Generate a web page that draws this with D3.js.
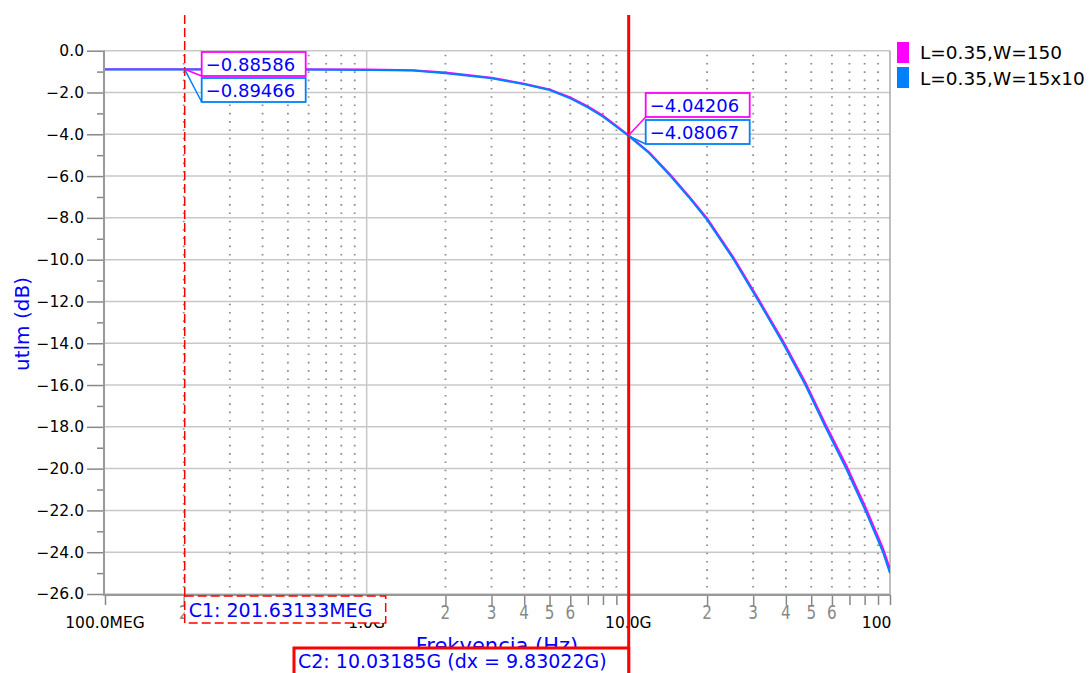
<!DOCTYPE html>
<html lang="en">
<head>
<meta charset="UTF-8">
<title>utlm</title>
<script src="https://d3js.org/d3.v7.min.js"></script>
<style>
    body{margin:0;background:#fff;}
    svg{display:block;font-family:"DejaVu Sans",sans-serif;}
</style>
</head>
<body>
<svg id="chart" width="1090" height="673"></svg>
<script>
// frequency points in GHz
var freqGHz = [0.1, 0.2016, 0.5, 1.0, 1.5, 2, 3, 4, 5, 6, 7, 8, 9, 10.03, 12, 14.5, 17, 20, 25.3, 31.5, 39, 47.5, 56.6, 68, 80.5, 94, 100];
var magentaDb = [-0.886, -0.886, -0.888, -0.905, -0.93, -1.04, -1.29, -1.58, -1.85, -2.23, -2.66, -3.11, -3.59, -4.042, -4.86, -5.95, -6.95, -8.02, -9.92, -11.91, -13.89, -15.88, -17.86, -19.84, -21.83, -23.81, -24.8];
var blueDb = [-0.895, -0.895, -0.90, -0.92, -0.95, -1.08, -1.32, -1.61, -1.88, -2.28, -2.71, -3.16, -3.64, -4.081, -4.90, -6.0, -7.0, -8.1, -10.0, -12.0, -14.0, -16.0, -18.0, -20.0, -22.0, -24.0, -25.0];

var seriesNames = ["L=0.35,W=150", "L=0.35,W=15x10"];
var seriesColors = ["#ff00ff", "#0080ff"];

var yMajor = [0, -2, -4, -6, -8, -10, -12, -14, -16, -18, -20, -22, -24, -26];
var yMinor = [-1, -3, -5, -7, -9, -11, -13, -15, -17, -19, -21, -23, -25];
var xMajor = [0.1, 1, 10, 100];
var xMajorLabels = ["100.0MEG", "1.0G", "10.0G", "100.0G"];
var xMinorDigits = [2, 3, 4, 5, 6, 7, 8, 9];
var xMinorLabels = ["2", "3", "4", "5", "6", "", "", ""];

// cursors
var c1GHz = 0.20163133;
var c2GHz = 10.03185;
var c1Text = "C1: 201.63133MEG";
var c2Text = "C2: 10.03185G (dx = 9.83022G)";
var c1Values = [-0.88586, -0.89466];
var c2Values = [-4.04206, -4.08067];

var svg = d3.select("#chart");
var pLeft = 105, pRight = 890, pTop = 50.7, pBottom = 594;

var x = d3.scaleLog().domain([0.1, 100]).range([pLeft, pRight]);
var y = d3.scaleLinear().domain([-26, 0]).range([pBottom, pTop]);

// all minor positions per decade
var minorTicks = [];
xMajor.slice(0, 3).forEach(function(m){
    xMinorDigits.forEach(function(d, i){
        minorTicks.push({f: m * d, label: xMinorLabels[i]});
    });
});

// grid
var grid = svg.append("g");
grid.selectAll(".hg").data(yMajor).enter().append("line")
    .attr("x1", pLeft).attr("x2", pRight)
    .attr("y1", d => y(d)).attr("y2", d => y(d))
    .attr("stroke", "#c8c8c8").attr("stroke-width", 1.5);
grid.selectAll(".vd").data(minorTicks).enter().append("line")
    .attr("x1", d => x(d.f)).attr("x2", d => x(d.f))
    .attr("y1", pTop + 4).attr("y2", pBottom)
    .attr("stroke", "#8c8c8c").attr("stroke-width", 1.8)
    .attr("stroke-dasharray", "1.6,6.7");
grid.selectAll(".vg").data([1, 10]).enter().append("line")
    .attr("x1", d => x(d)).attr("x2", d => x(d))
    .attr("y1", pTop).attr("y2", pBottom)
    .attr("stroke", "#c8c8c8").attr("stroke-width", 1.5);
grid.append("line")
    .attr("x1", pRight).attr("x2", pRight).attr("y1", pTop).attr("y2", pBottom + 2)
    .attr("stroke", "#aaa").attr("stroke-width", 1.5);

// y axis
var yAxis = svg.append("g").attr("transform", "translate(" + pLeft + ",0)")
    .call(d3.axisLeft(y).tickValues(yMajor).tickSize(18).tickPadding(3).tickFormat(d3.format(".1f")));
svg.append("g").attr("transform", "translate(" + pLeft + ",0)")
    .call(d3.axisLeft(y).tickValues(yMinor).tickSize(8).tickFormat(""));
svg.selectAll(".domain").remove();
svg.selectAll(".tick line").attr("stroke", "#888").attr("stroke-width", 1.5);
yAxis.selectAll("text").attr("font-size", 15.5).attr("fill", "#000").attr("font-family", "DejaVu Sans");
svg.append("line").attr("x1", pLeft - 1).attr("x2", pLeft - 1).attr("y1", pTop).attr("y2", pBottom + 2)
    .attr("stroke", "#999").attr("stroke-width", 2);

// x axis
var xAxis = svg.append("g").attr("transform", "translate(0," + (pBottom + 1) + ")")
    .call(d3.axisBottom(x).tickValues(xMajor.concat(minorTicks.map(d => d.f))).tickSize(10).tickFormat(""));
xAxis.select(".domain").remove();
xAxis.selectAll(".tick line").attr("stroke", "#888").attr("stroke-width", 1.5);
svg.append("line").attr("x1", pLeft - 2).attr("x2", pRight).attr("y1", pBottom + 1).attr("y2", pBottom + 1)
    .attr("stroke", "#999").attr("stroke-width", 2);

svg.append("g").selectAll("text").data(minorTicks.filter(d => d.label)).enter().append("text")
    .attr("transform", d => "translate(" + x(d.f) + "," + (pBottom + 25) + ") scale(0.8,1)")
    .attr("text-anchor", "middle").attr("font-size", 19).attr("fill", "#888")
    .text(d => d.label);

svg.append("clipPath").attr("id", "lblclip").append("rect")
    .attr("x", 0).attr("y", 0).attr("width", pRight + 1).attr("height", 673);
svg.append("g").attr("clip-path", "url(#lblclip)")
    .selectAll("text").data(xMajor).enter().append("text")
    .attr("x", d => x(d)).attr("y", pBottom + 34)
    .attr("text-anchor", "middle").attr("font-size", 15.5).attr("fill", "#000")
    .text((d, i) => xMajorLabels[i]);

// axis titles
svg.append("text")
    .attr("transform", "translate(29,324) rotate(-90)")
    .attr("text-anchor", "middle").attr("font-size", 20).attr("fill", "#0000ff")
    .text("utlm (dB)");
svg.append("text")
    .attr("x", 497).attr("y", 653)
    .attr("text-anchor", "middle").attr("font-size", 21).attr("fill", "#0000ff")
    .text("Frekvencia (Hz)");

// curves
svg.append("clipPath").attr("id", "plotclip").append("rect")
    .attr("x", pLeft).attr("y", pTop - 2).attr("width", pRight - pLeft).attr("height", pBottom - pTop + 2);
var line = d3.line().x(d => x(d[0])).y(d => y(d[1]));
[magentaDb, blueDb].forEach(function(vals, i){
    svg.append("path")
        .datum(freqGHz.map((f, k) => [f, vals[k]]))
        .attr("clip-path", "url(#plotclip)")
        .attr("fill", "none").attr("stroke", seriesColors[i]).attr("stroke-width", 2)
        .attr("d", line);
});

// legend
seriesNames.forEach(function(name, i){
    svg.append("rect").attr("x", 897).attr("y", 42 + i * 25).attr("width", 12).attr("height", 21)
        .attr("fill", seriesColors[i]);
    svg.append("text").attr("x", 920).attr("y", 59 + i * 26)
        .attr("font-size", 18.5).attr("fill", "#000").text(name);
});

// cursor C1 (dashed)
var x1 = x(c1GHz), x2 = x(c2GHz);
svg.append("line").attr("x1", x1).attr("x2", x1).attr("y1", 15).attr("y2", 597)
    .attr("stroke", "#ff0000").attr("stroke-width", 1.5).attr("stroke-dasharray", "9,4");
svg.append("rect").attr("x", x1).attr("y", 596).attr("width", 201).attr("height", 27)
    .attr("fill", "#fff").attr("stroke", "#ff0000").attr("stroke-width", 1.5).attr("stroke-dasharray", "9,4");
svg.append("text").attr("x", x1 + 4).attr("y", 617)
    .attr("font-size", 19).attr("fill", "#0000ff").text(c1Text);

// cursor C2 (solid)
svg.append("line").attr("x1", x2).attr("x2", x2).attr("y1", 15).attr("y2", 673)
    .attr("stroke", "#ff0000").attr("stroke-width", 3);
svg.append("rect").attr("x", 294).attr("y", 648).attr("width", x2 - 294).attr("height", 40)
    .attr("fill", "#fff").attr("stroke", "#ff0000").attr("stroke-width", 3);
svg.append("text").attr("x", 298).attr("y", 668)
    .attr("font-size", 19).attr("fill", "#0000ff").text(c2Text);

// value markers at cursors
var fmt = d3.format(".5f");
var markers = [
    {cx: x1, vals: c1Values, boxTop: [52, 78]},
    {cx: x2, vals: c2Values, boxTop: [93, 120]}
];
markers.forEach(function(m){
    m.vals.forEach(function(v, i){
        var bx = m.cx + 17, by = m.boxTop[i];
        svg.append("line").attr("x1", m.cx).attr("y1", y(v)).attr("x2", bx).attr("y2", by + 24)
            .attr("stroke", seriesColors[i]).attr("stroke-width", 1.5);
        svg.append("rect").attr("x", bx).attr("y", by).attr("width", 104).attr("height", 24)
            .attr("fill", "#fff").attr("stroke", seriesColors[i]).attr("stroke-width", 1.8);
        svg.append("text").attr("x", bx + 4).attr("y", by + 19)
            .attr("font-size", 18).attr("fill", "#0000ff").text(fmt(v));
    });
});
</script>
</body>
</html>
